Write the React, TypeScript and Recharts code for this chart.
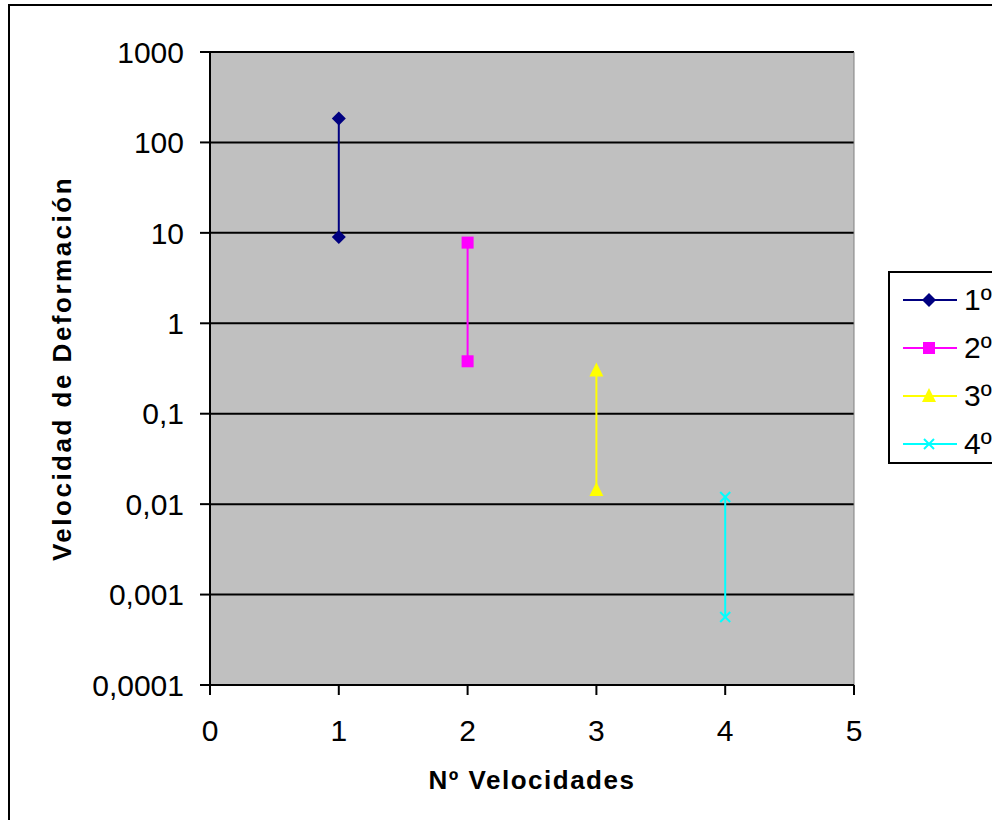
import { CartesianGrid, ReferenceLine, Scatter, ScatterChart, XAxis, YAxis } from 'recharts'

const xTicks = [0, 1, 2, 3, 4, 5]
const yTicks = [0.0001, 0.001, 0.01, 0.1, 1, 10, 100, 1000]

const serie1 = [
  { x: 1, y: 184 },
  { x: 1, y: 9 },
]
const serie2 = [
  { x: 2, y: 7.8 },
  { x: 2, y: 0.38 },
]
const serie3 = [
  { x: 3, y: 0.3 },
  { x: 3, y: 0.0143 },
]
const serie4 = [
  { x: 4, y: 0.012 },
  { x: 4, y: 0.000565 },
]

const seriesNames = ['1º', '2º', '3º', '4º']
const seriesColors = ['#000080', '#FF00FF', '#FFFF00', '#00FFFF']
const seriesData = [serie1, serie2, serie3, serie4]

const font = 'Arial, "Liberation Sans", sans-serif'

function Marker({ kind, cx, cy, color }: { kind: number; cx: number; cy: number; color: string }) {
  if (kind === 0) {
    return <polygon points={`${cx},${cy - 7} ${cx + 7},${cy} ${cx},${cy + 7} ${cx - 7},${cy}`} fill={color} />
  }
  if (kind === 1) {
    return <rect x={cx - 6} y={cy - 6} width={12} height={12} fill={color} />
  }
  if (kind === 2) {
    return <polygon points={`${cx},${cy - 8} ${cx + 7},${cy + 6} ${cx - 7},${cy + 6}`} fill={color} />
  }
  return (
    <g stroke={color} strokeWidth={2}>
      <line x1={cx - 5} y1={cy - 5} x2={cx + 5} y2={cy + 5} />
      <line x1={cx - 5} y1={cy + 5} x2={cx + 5} y2={cy - 5} />
    </g>
  )
}

// legend drawn outside the chart so it doesn't eat plot height
function LegendBox() {
  return (
    <div
      style={{
        position: 'absolute',
        left: 888,
        top: 271,
        width: 120,
        height: 193,
        border: '2px solid #000',
        background: '#fff',
        boxSizing: 'border-box',
        fontFamily: font,
      }}
    >
      {seriesNames.map((name, i) => (
        <div
          key={name}
          style={{ position: 'absolute', left: 0, top: 27 + i * 48 - 20, height: 40, display: 'flex', alignItems: 'center' }}
        >
          <svg width={70} height={40} style={{ display: 'block' }}>
            <line x1={13} y1={20} x2={67} y2={20} stroke={seriesColors[i]} strokeWidth={2} />
            <Marker kind={i} cx={39} cy={20} color={seriesColors[i]} />
          </svg>
          <span style={{ fontSize: 30, color: '#000', marginLeft: 4, lineHeight: '40px' }}>{name}</span>
        </div>
      ))}
    </div>
  )
}

const tickStyle = { fill: '#000', fontSize: 30, fontFamily: font }

export default function App() {
  return (
    <div style={{ position: 'absolute', left: 0, top: 0, width: 992, height: 820, overflow: 'hidden', background: '#fff' }}>
      <div
        style={{
          position: 'absolute',
          left: 8,
          top: 4,
          width: 1010,
          height: 840,
          border: '2px solid #000',
        }}
      />
      <ScatterChart width={992} height={820} margin={{ top: 52, right: 138, bottom: 35, left: 10 }}>
        <CartesianGrid horizontal vertical={false} fill="#C0C0C0" stroke="#000" strokeWidth={2} />
        <ReferenceLine x={5} stroke="#808080" strokeWidth={1} />
        <XAxis
          type="number"
          dataKey="x"
          domain={[0, 5]}
          ticks={xTicks}
          height={100}
          tick={tickStyle}
          tickSize={10}
          tickMargin={25}
          tickLine={{ stroke: '#000', strokeWidth: 2 }}
          axisLine={{ stroke: '#000', strokeWidth: 2 }}
          label={{
            content: ({ viewBox }: any) => (
              <text
                x={viewBox.x + viewBox.width / 2}
                y={viewBox.y + 95}
                textAnchor="middle"
                dominantBaseline="central"
                fontFamily={font}
                fontWeight="bold"
                fontSize={26}
                letterSpacing={1.5}
                fill="#000"
              >
                Nº Velocidades
              </text>
            ),
          }}
        />
        <YAxis
          type="number"
          dataKey="y"
          scale="log"
          domain={[0.0001, 1000]}
          ticks={yTicks}
          allowDataOverflow
          width={200}
          tick={tickStyle}
          tickSize={10}
          tickMargin={16}
          tickFormatter={(v: number) => String(v).replace('.', ',')}
          tickLine={{ stroke: '#000', strokeWidth: 2 }}
          axisLine={{ stroke: '#000', strokeWidth: 2 }}
          label={{
            content: ({ viewBox }: any) => {
              const cx = viewBox.x + 52
              const cy = viewBox.y + viewBox.height / 2
              return (
                <text
                  x={cx}
                  y={cy}
                  transform={`rotate(-90 ${cx} ${cy})`}
                  textAnchor="middle"
                  dominantBaseline="central"
                  fontFamily={font}
                  fontWeight="bold"
                  fontSize={26}
                  letterSpacing={2.5}
                  fill="#000"
                >
                  Velocidad de Deformación
                </text>
              )
            },
          }}
        />
        {seriesData.map((d, i) => (
          <Scatter
            key={seriesNames[i]}
            name={seriesNames[i]}
            data={d}
            fill={seriesColors[i]}
            line={{ stroke: seriesColors[i], strokeWidth: 2 }}
            shape={(p: any) => <Marker kind={i} cx={p.cx} cy={p.cy} color={seriesColors[i]} />}
            isAnimationActive={false}
          />
        ))}
      </ScatterChart>
      <LegendBox />
    </div>
  )
}
